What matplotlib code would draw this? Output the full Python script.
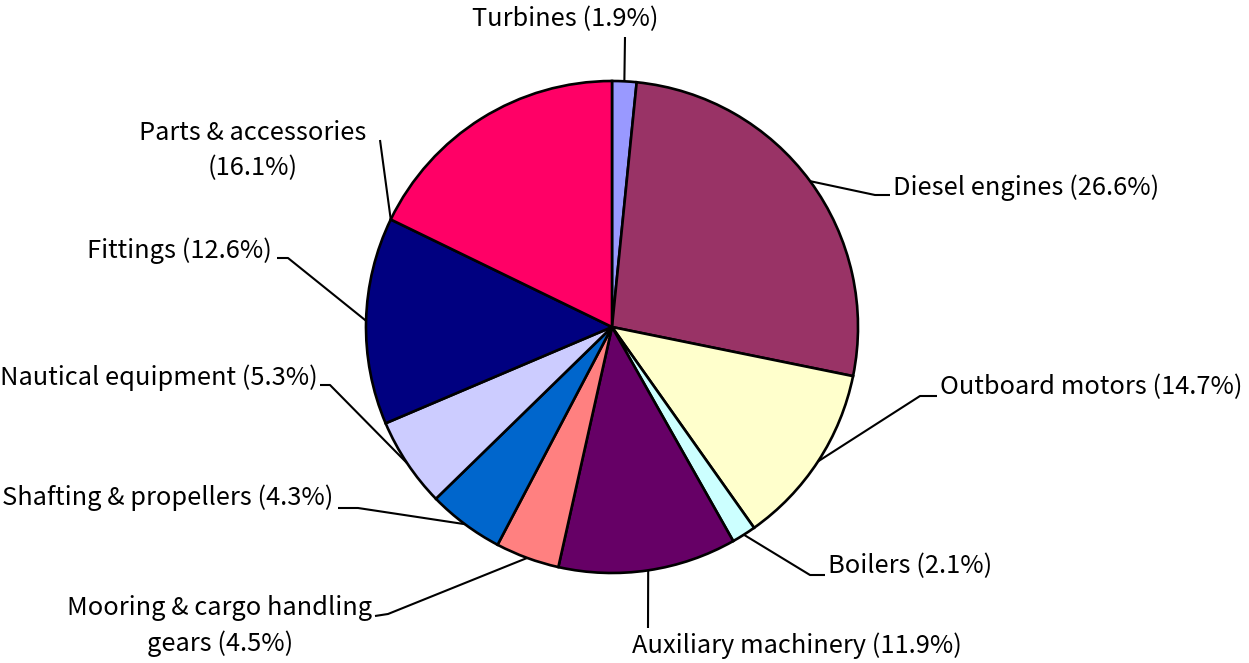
import numpy as np
import matplotlib.pyplot as plt

plt.rcParams['font.family'] = ['Noto Sans CJK JP', 'DejaVu Sans']

# slice sizes as drawn in the picture (percent), clockwise from 12 o'clock
names = ['Turbines', 'Diesel engines', 'Outboard motors', 'Boilers',
         'Auxiliary machinery', 'Mooring & cargo handling\ngears',
         'Shafting & propellers', 'Nautical equipment', 'Fittings',
         'Parts & accessories\n']
shares = [1.6, 26.6, 12.0, 1.6, 11.7, 4.2, 5.0, 5.9, 13.6, 17.8]
# percentages printed in the labels
label_pct = ['1.9', '26.6', '14.7', '2.1', '11.9', '4.5', '4.3', '5.3', '12.6', '16.1']
colors = ['#9999FF', '#993366', '#FFFFCC', '#CCFFFF', '#660066',
          '#FF8080', '#0066CC', '#CCCCFF', '#000080', '#FF0066']

W, H = 1249, 663
fig = plt.figure(figsize=(W / 100, H / 100), dpi=100)
ax = fig.add_axes([0, 0, 1, 1])

cx, cy, r = 612, H - 327, 246
ax.pie(shares, colors=colors, startangle=90, counterclock=False,
       center=(cx, cy), radius=r,
       wedgeprops=dict(edgecolor='black', linewidth=1.9))

# where on the wedge the leader starts (0 = leading edge, 0.5 = middle)
anchor_frac = [0.5] * 9 + [0.0]
# label layout in pixels from the top-left: text pos, alignment, elbow, line end
layout = [
    ((565, 19), 'center', (625, 37), (625, 37)),
    ((893, 188), 'left', (875, 195), (890, 195)),
    ((940, 387), 'left', (920, 396), (937, 396)),
    ((828, 566), 'left', (810, 575), (825, 575)),
    ((632, 646), 'left', (648, 628), (648, 628)),
    ((220, 626), 'center', (388, 614), (375, 616)),
    ((333, 498), 'right', (358, 508), (338, 508)),
    ((318, 378), 'right', (330, 385), (320, 385)),
    ((272, 251), 'right', (288, 258), (277, 258)),
    ((253, 151), 'center', (380, 140), (380, 140)),
]

cum = np.concatenate([[0], np.cumsum(shares)[:-1]])
for i, name in enumerate(names):
    pos = cum[i] + anchor_frac[i] * shares[i]
    ang = np.deg2rad(90 - 360 * pos / 100)
    ax0, ay0 = cx + r * np.cos(ang), cy + r * np.sin(ang)
    (tx, ty), ha, (ex, ey), (lx, ly) = layout[i]
    ax.plot([ax0, ex, lx], [ay0, H - ey, H - ly], color='black', lw=1.5,
            solid_capstyle='butt', zorder=3)
    sep = '' if name.endswith('\n') else ' '
    txt = f'{name}{sep}({label_pct[i]}%)'
    ax.text(tx, H - ty, txt, ha=ha, va='center', ma='center',
            fontsize=18.3, color='black', linespacing=1.45)

ax.set_xlim(0, W)
ax.set_ylim(0, H)
ax.set_aspect('equal')
ax.axis('off')

fig.savefig('out.png', dpi=100)
